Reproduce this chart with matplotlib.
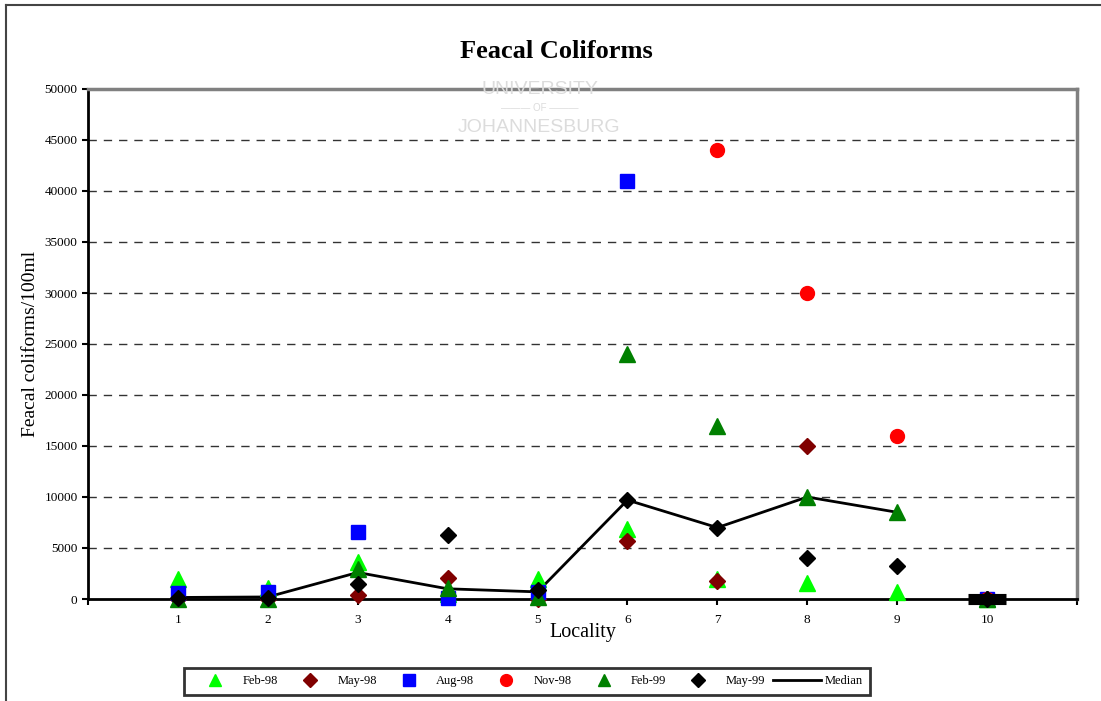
import numpy as np
import matplotlib.pyplot as plt
from matplotlib.lines import Line2D

plt.rcParams['font.family'] = ['Liberation Serif', 'DejaVu Serif']

#   data
locality = [1, 2, 3, 4, 5, 6, 7, 8, 9, 10]
nan = np.nan
feb98 = [2000, 1100, 3600, 500, 2000, 6900, 2000, 1600, 700, 0]
may98 = [0, 0, 400, 2100, 0, 5700, 1800, 15000, nan, 0]
aug98 = [600, 700, 6600, 100, 700, 41000, nan, nan, nan, 0]
nov98 = [nan, nan, nan, nan, nan, nan, 44000, 30000, 16000, 0]
feb99 = [0, 0, 2900, 1100, 200, 24000, 17000, 10000, 8500, 0]
may99 = [100, 100, 1500, 6300, 900, 9700, 7000, 4000, 3200, 0]
median = [150, 200, 2600, 1000, 700, 9700, 7000, 10000, 8500, nan]
median_end = [0]   # short bar drawn at locality 10

series = [
    ("Feb-98", feb98, "^", "#00FF00", 11),
    ("May-98", may98, "D", "#800000", 8),
    ("Aug-98", aug98, "s", "#0000FF", 10),
    ("Nov-98", nov98, "o", "#FF0000", 10),
    ("Feb-99", feb99, "^", "#008000", 11),
    ("May-99", may99, "D", "#000000", 8),
]

fig = plt.figure(figsize=(11.01, 7.01), dpi=100)
ax = fig.add_axes([88/1101, 1 - 599/701, (1077 - 88)/1101, (599 - 89)/701])

for y in range(5000, 50000, 5000):
    ax.axhline(y, color="#333333", lw=1, ls=(0, (6, 5)), zorder=1)

for name, vals, mk, col, ms in series:
    ax.plot(locality, vals, ls="none", marker=mk, color=col, ms=ms,
            mec=col, label=name, zorder=3, clip_on=False)

ax.plot(locality, median, color="black", lw=2, label="Median", zorder=2)
ax.plot([10], median_end, ls="none", marker="_", ms=28, mew=8,
        color="black", zorder=4, clip_on=False)

ax.set_xlim(0, 11)
ax.set_ylim(0, 50000)
ax.set_xticks(range(0, 12))
ax.set_xticklabels([""] + [str(i) for i in locality] + [""])
ax.set_yticks(range(0, 50001, 5000))
ax.tick_params(axis="both", labelsize=9.5, length=4, width=1.5, direction="out")
ax.tick_params(axis="x", pad=7)

for s in ["left", "bottom"]:
    ax.spines[s].set_color("black")
    ax.spines[s].set_linewidth(2)
    ax.spines[s].set_zorder(2.5)
for s in ["top", "right"]:
    ax.spines[s].set_color("#808080")
    ax.spines[s].set_linewidth(2.5)

ax.set_xlabel("Locality", fontsize=14.5, labelpad=-2)
ax.set_ylabel("Feacal coliforms/100ml", fontsize=14, labelpad=4)
fig.text(0.505, 1 - 52/701, "Feacal Coliforms", ha="center", va="center",
         fontsize=19, fontweight="bold")

# faint watermark
fig.text(0.49, 1 - 89/701, "UNIVERSITY", ha="center", va="center",
         fontsize=14, color="#dcdcdc", family="Liberation Sans")
fig.text(0.49, 1 - 108/701, "——— OF ———", ha="center", va="center",
         fontsize=7, color="#dcdcdc", family="Liberation Sans")
fig.text(0.49, 1 - 127/701, "JOHANNESBURG", ha="center", va="center",
         fontsize=14, color="#dcdcdc", family="Liberation Sans")

# outer chart-area border (top and left visible)
fig.add_artist(Line2D([6/1101, 1.01], [1 - 5/701, 1 - 5/701], color="#444444", lw=1.5))
fig.add_artist(Line2D([6/1101, 6/1101], [-0.01, 1 - 5/701], color="#444444", lw=1.5))

leg = ax.legend(loc="center", bbox_to_anchor=(527/1101, 1 - 681/701),
                bbox_transform=fig.transFigure, ncol=7, fontsize=9,
                frameon=True, fancybox=False, edgecolor="black",
                handlelength=3.8, handletextpad=0.3, columnspacing=0.65,
                borderpad=0.6, markerscale=0.85)
leg.get_frame().set_linewidth(2)

fig.savefig("out.png", dpi=100)
